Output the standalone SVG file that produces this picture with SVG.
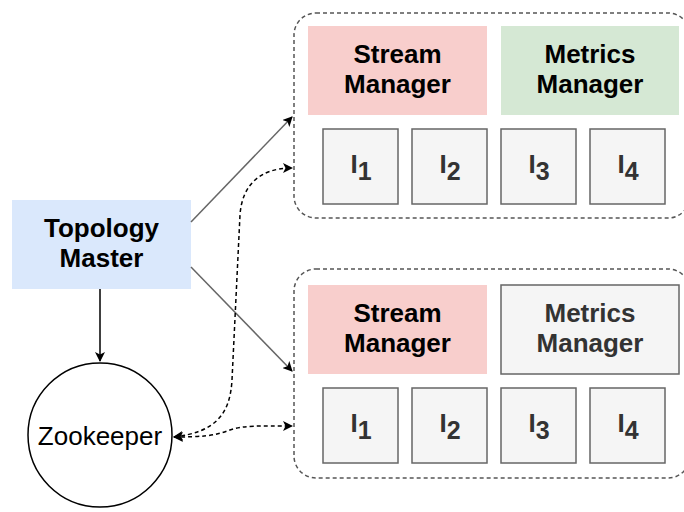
<svg xmlns="http://www.w3.org/2000/svg" width="684" height="512" viewBox="0 0 684 512">
<defs>
<style>
.t{font-family:"Liberation Sans",Arial,sans-serif;font-weight:bold;font-size:26px;text-anchor:middle;fill:#000}
.g{fill:#333}
.ib{fill:#f5f5f5;stroke:#666;stroke-width:1.5}
.it{font-family:"Liberation Sans",Arial,sans-serif;font-weight:bold;font-size:26px;fill:#333;text-anchor:middle}
.cont{fill:none;stroke:#555;stroke-width:1.5;stroke-dasharray:4 3}
.solid{fill:none;stroke:#666;stroke-width:1.5}
.dot{fill:none;stroke:#000;stroke-width:1.5;stroke-dasharray:4 3}
</style>
<marker id="ah" viewBox="0 0 10 10" refX="9" refY="5" markerWidth="10" markerHeight="10" markerUnits="userSpaceOnUse" orient="auto-start-reverse">
<path d="M0,0 L10,5 L0,10 L2.5,5 Z" fill="#000"/>
</marker>
</defs>

<g id="container-top"><rect class="cont" x="294" y="13" width="396" height="205" rx="22"/></g>
<g id="container-bottom"><rect class="cont" x="294" y="269" width="396" height="209" rx="22"/></g>

<g id="sm1"><rect x="308" y="26" width="179" height="89" fill="#f8cecc"/>
<text class="t" x="397.5" y="63">Stream</text><text class="t" x="397.5" y="93">Manager</text></g>
<g id="mm1"><rect x="501" y="26" width="178" height="89" fill="#d5e8d4"/>
<text class="t" x="590" y="63">Metrics</text><text class="t" x="590" y="93">Manager</text></g>

<g id="i1a"><rect class="ib" x="323" y="129" width="75" height="75"/><text class="it" x="361" y="173">I<tspan font-size="25" dy="7">1</tspan></text></g>
<g id="i2a"><rect class="ib" x="412" y="129" width="75" height="75"/><text class="it" x="450" y="173">I<tspan font-size="25" dy="7">2</tspan></text></g>
<g id="i3a"><rect class="ib" x="501" y="129" width="75" height="75"/><text class="it" x="539" y="173">I<tspan font-size="25" dy="7">3</tspan></text></g>
<g id="i4a"><rect class="ib" x="590" y="129" width="75" height="75"/><text class="it" x="628" y="173">I<tspan font-size="25" dy="7">4</tspan></text></g>

<g id="sm2"><rect x="308" y="285" width="179" height="89" fill="#f8cecc"/>
<text class="t" x="397.5" y="322">Stream</text><text class="t" x="397.5" y="352">Manager</text></g>
<g id="mm2"><rect class="ib" x="501" y="285" width="178" height="89"/>
<text class="t g" x="590" y="322">Metrics</text><text class="t g" x="590" y="352">Manager</text></g>

<g id="i1b"><rect class="ib" x="323" y="388" width="75" height="75"/><text class="it" x="361" y="432">I<tspan font-size="25" dy="7">1</tspan></text></g>
<g id="i2b"><rect class="ib" x="412" y="388" width="75" height="75"/><text class="it" x="450" y="432">I<tspan font-size="25" dy="7">2</tspan></text></g>
<g id="i3b"><rect class="ib" x="501" y="388" width="75" height="75"/><text class="it" x="539" y="432">I<tspan font-size="25" dy="7">3</tspan></text></g>
<g id="i4b"><rect class="ib" x="590" y="388" width="75" height="75"/><text class="it" x="628" y="432">I<tspan font-size="25" dy="7">4</tspan></text></g>

<g id="tm"><rect x="12" y="200" width="179" height="89" fill="#dae8fc"/>
<text class="t" x="101.5" y="237">Topology</text><text class="t" x="101.5" y="267">Master</text></g>

<g id="zk"><circle cx="100" cy="435" r="72" fill="#fff" stroke="#000" stroke-width="1.5"/>
<text x="100" y="445" font-family="Liberation Sans,Arial,sans-serif" font-size="26" text-anchor="middle">Zookeeper</text></g>

<g id="connectors">
<path class="solid" d="M191,222 L292,117" marker-end="url(#ah)"/>
<path class="solid" d="M191,267 L292,371" marker-end="url(#ah)"/>
<path fill="none" stroke="#000" stroke-width="1.5" d="M100,289 L100,361" marker-end="url(#ah)"/>
<path class="dot" d="M174,437 C215,432 230,415 232,380 L240,215 C242,185 260,168 292,168" marker-start="url(#ah)" marker-end="url(#ah)"/>
<path class="dot" d="M174,437 C200,437 215,436 230,430 C245,425 260,426 292,426" marker-start="url(#ah)" marker-end="url(#ah)"/>
</g>
</svg>
